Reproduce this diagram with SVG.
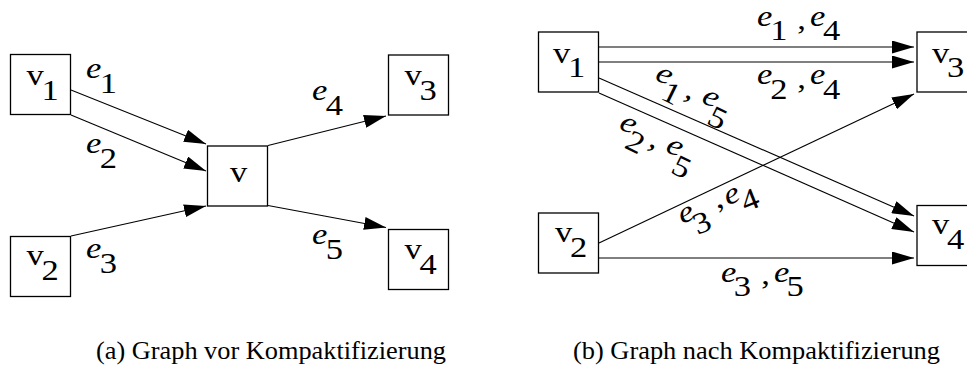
<svg xmlns="http://www.w3.org/2000/svg" width="967" height="369" viewBox="0 0 967 369">
<style>
.box{fill:#fff;stroke:#000;stroke-width:1.3}
.edge{stroke:#000;stroke-width:1.1;fill:none;marker-end:url(#ah)}
.t{font-family:'Liberation Serif','DejaVu Serif','Noto Serif',serif;font-size:30px;fill:#000}
.it{font-style:italic}
.cap{font-family:'Liberation Serif','DejaVu Serif','Noto Serif',serif;font-size:24.5px;fill:#000}
</style>
<defs>
<marker id="ah" markerUnits="userSpaceOnUse" markerWidth="22" markerHeight="13" viewBox="0 0 22 13" refX="22" refY="6.5" orient="auto">
<path d="M0,0 L22,6.5 L0,13 z" fill="#000"/>
</marker>
</defs>
<rect width="967" height="369" fill="#fff"/>
<g id="connectors">
<line class="edge" x1="71" y1="90" x2="206" y2="144"/>
<line class="edge" x1="71" y1="115" x2="206" y2="171"/>
<line class="edge" x1="71" y1="236" x2="206" y2="206"/>
<line class="edge" x1="268" y1="145.5" x2="386" y2="116"/>
<line class="edge" x1="268" y1="205.5" x2="386" y2="227.5"/>
<line class="edge" x1="599" y1="47" x2="914" y2="47"/>
<line class="edge" x1="599" y1="62" x2="914" y2="62"/>
<line class="edge" x1="599" y1="78" x2="914" y2="216"/>
<line class="edge" x1="599" y1="93" x2="914" y2="232"/>
<line class="edge" x1="599" y1="243" x2="914" y2="94"/>
<line class="edge" x1="599" y1="258" x2="914" y2="258"/>
</g>
<g id="edge-labels">
<text class="t" transform="translate(86,78) scale(1.15,1)"><tspan class="it">e</tspan><tspan x="12" y="15">1</tspan></text>
<text class="t" transform="translate(86,153) scale(1.15,1)"><tspan class="it">e</tspan><tspan x="12" y="15">2</tspan></text>
<text class="t" transform="translate(86,258) scale(1.15,1)"><tspan class="it">e</tspan><tspan x="12" y="15">3</tspan></text>
<text class="t" transform="translate(312,100) scale(1.15,1)"><tspan class="it">e</tspan><tspan x="12" y="15">4</tspan></text>
<text class="t" transform="translate(312,244) scale(1.15,1)"><tspan class="it">e</tspan><tspan x="12" y="15">5</tspan></text>
<text class="t" transform="translate(757,26) scale(1.15,1)"><tspan class="it">e</tspan><tspan x="11.5" y="14">1</tspan><tspan x="35" y="3">,</tspan><tspan class="it" x="46" y="0">e</tspan><tspan x="57.5" y="14">4</tspan></text>
<text class="t" transform="translate(757,84) scale(1.15,1)"><tspan class="it">e</tspan><tspan x="11.5" y="15">2</tspan><tspan x="35" y="4">,</tspan><tspan class="it" x="46" y="0">e</tspan><tspan x="57.5" y="15">4</tspan></text>
<text class="t" transform="translate(721,282) scale(1.15,1)"><tspan class="it">e</tspan><tspan x="11" y="14">3</tspan><tspan x="35" y="2">,</tspan><tspan class="it" x="46" y="0">e</tspan><tspan x="57" y="14">5</tspan></text>
<text class="t" transform="translate(654,79) rotate(26) scale(1.15,1)"><tspan class="it">e</tspan><tspan x="11.5" y="15">1</tspan><tspan x="30" y="3">,</tspan><tspan class="it" x="45" y="0">e</tspan><tspan x="57" y="17">5</tspan></text>
<text class="t" transform="translate(618,128) rotate(26) scale(1.15,1)"><tspan class="it">e</tspan><tspan x="11.5" y="15">2</tspan><tspan x="30" y="3">,</tspan><tspan class="it" x="45" y="0">e</tspan><tspan x="57" y="17">5</tspan></text>
<text class="t" transform="translate(682,224) rotate(-22) scale(1.15,1)"><tspan class="it">e</tspan><tspan x="9" y="16">3</tspan><tspan x="33" y="-1">,</tspan><tspan class="it" x="43" y="0">e</tspan><tspan x="55" y="13">4</tspan></text>
</g>
<g id="a-v1"><rect class="box" x="10.5" y="54.5" width="60" height="60"/><text class="t" transform="translate(26.5,85) scale(1.15,1)">v<tspan x="13" y="15">1</tspan></text></g>
<g id="a-v2"><rect class="box" x="10.5" y="236.5" width="60" height="60"/><text class="t" transform="translate(26.5,265) scale(1.15,1)">v<tspan x="13" y="15">2</tspan></text></g>
<g id="a-v"><rect class="box" x="207.5" y="146" width="60" height="60"/><text class="t" transform="translate(230,182) scale(1.15,1)">v</text></g>
<g id="a-v3"><rect class="box" x="388.5" y="55" width="60" height="60"/><text class="t" transform="translate(404.5,85) scale(1.15,1)">v<tspan x="13" y="15">3</tspan></text></g>
<g id="a-v4"><rect class="box" x="388.5" y="229.5" width="60" height="60"/><text class="t" transform="translate(404.5,259) scale(1.15,1)">v<tspan x="13" y="15">4</tspan></text></g>
<g id="b-v1"><rect class="box" x="538.5" y="32" width="60" height="60"/><text class="t" transform="translate(553,63) scale(1.15,1)">v<tspan x="13" y="14">1</tspan></text></g>
<g id="b-v2"><rect class="box" x="538.5" y="213" width="60" height="60"/><text class="t" transform="translate(555,242) scale(1.15,1)">v<tspan x="13" y="15">2</tspan></text></g>
<g id="b-v3"><rect class="box" x="917" y="32" width="60" height="60"/><text class="t" transform="translate(932,63) scale(1.15,1)">v<tspan x="13" y="14">3</tspan></text></g>
<g id="b-v4"><rect class="box" x="917" y="205.5" width="60" height="60"/><text class="t" transform="translate(932,234) scale(1.15,1)">v<tspan x="13" y="15">4</tspan></text></g>
<g id="captions">
<text class="cap" x="96" y="359" textLength="350" lengthAdjust="spacingAndGlyphs">(a) Graph vor Kompaktifizierung</text>
<text class="cap" x="573" y="359" textLength="367" lengthAdjust="spacingAndGlyphs">(b) Graph nach Kompaktifizierung</text>
</g>
</svg>
